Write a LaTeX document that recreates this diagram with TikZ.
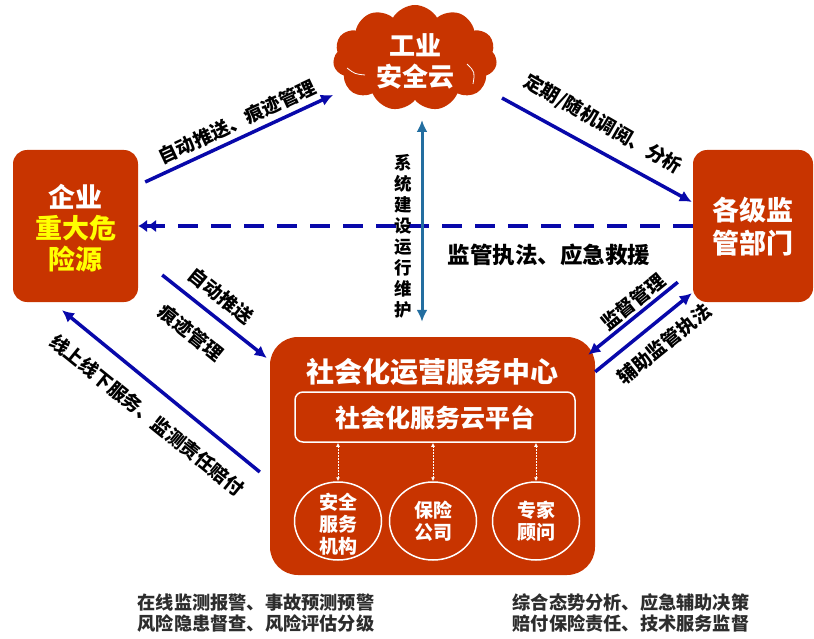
\documentclass[tikz,border=0pt]{standalone}
\usepackage{fontspec}
\setmainfont{Noto Sans CJK SC}
\usetikzlibrary{shapes.symbols,shapes.geometric,arrows.meta,calc}
\definecolor{brick}{RGB}{200,52,0}
\definecolor{navy}{RGB}{8,8,170}
\definecolor{steel}{RGB}{35,110,160}
\definecolor{ylw}{RGB}{255,255,0}
\definecolor{gtxt}{RGB}{45,45,45}
\begin{document}
\begin{tikzpicture}[x=1pt,y=-1pt,
  box/.style={fill=brick, draw=none, rounded corners=14pt, inner sep=0pt},
  lbl/.style={font=\fontsize{19}{21}\selectfont\bfseries, text=black, inner sep=0pt, align=center},
  wtxt/.style={text=white, inner sep=0pt, align=center},
  bluearr/.style={draw=navy, line width=3.5pt, -{Latex[length=12pt,width=12pt]}},
  minarr/.style={draw=white, line width=0.8pt, dash pattern=on 2pt off 1pt, {Latex[length=4pt,width=4pt]}-{Latex[length=4pt,width=4pt]}},
  circ/.style={ellipse, draw=white, line width=1.5pt, minimum width=87pt, minimum height=78pt, inner sep=0pt},
  btxt/.style={font=\fontsize{18.2}{21}\selectfont\bfseries, text=gtxt, inner sep=0pt, align=left}
]
\useasboundingbox (0,0) rectangle (814,639);

% cloud
\node[cloud, fill=brick, cloud puffs=11, cloud puff arc=120, aspect=1.55, minimum width=164pt, minimum height=106pt, inner sep=0pt] (C) at (415,58) {};
\node[wtxt, font=\fontsize{26}{31}\selectfont\bfseries] (Ct) at (415,61) {工业\\安全云};
\draw[white, line width=0.8pt] ([shift={(-68,10)}]C.center) .. controls ([shift={(-60,16)}]C.center) .. ([shift={(-50,17)}]C.center);
\draw[white, line width=0.8pt] ([shift={(52,6)}]C.center) .. controls ([shift={(60,14)}]C.center) .. ([shift={(58,26)}]C.center);

% left box
\node[box, minimum width=125pt, minimum height=152pt] (L) at (75.5,226) {};
\node[wtxt, font=\fontsize{27}{31}\selectfont\bfseries] (Lt) at (75.5,228) {企业\\\textcolor{ylw}{重大危}\\\textcolor{ylw}{险源}};

% right box
\node[box, minimum width=120pt, minimum height=152pt] (R) at (753,226) {};
\node[wtxt, font=\fontsize{27}{33}\selectfont\bfseries] (Rt) at (753,227) {各级监\\管部门};

% center box
\node[box, rounded corners=28pt, minimum width=325pt, minimum height=238pt] (M) at (432.5,456) {};
\node[wtxt, font=\fontsize{28}{30}\selectfont\bfseries] (Mt) at (432.5,372) {社会化运营服务中心};
\node[draw=white, line width=1.5pt, rounded corners=8pt, minimum width=280pt, minimum height=50pt, inner sep=0pt] (P) at (435,417) {};
\node[wtxt, font=\fontsize{25}{27}\selectfont\bfseries] (Pt) at (435,418) {社会化服务云平台};

\node[circ] (E1) at (338,521) {};
\node[circ] (E2) at (433,521) {};
\node[circ] (E3) at (536,521) {};
\node[wtxt, font=\fontsize{19}{22}\selectfont\bfseries] (E1t) at (338,524) {安全\\服务\\机构};
\node[wtxt, font=\fontsize{19}{22}\selectfont\bfseries] (E2t) at (433,521) {保险\\公司};
\node[wtxt, font=\fontsize{19}{22}\selectfont\bfseries] (E3t) at (536,521) {专家\\顾问};
\draw[minarr] (E1.north) -- (E1.north |- P.south);
\draw[minarr] (E2.north) -- (E2.north |- P.south);
\draw[minarr] (E3.north) -- (E3.north |- P.south);

% arrows
\draw[bluearr] ([shift={(7,-44)}]L.east) -- ([shift={(-82,37)}]C.center);
\draw[bluearr] ([shift={(87,40)}]C.center) -- ([shift={(-1,-24)}]R.west);
\draw[draw=navy, line width=4pt, dash pattern=on 20pt off 13pt, -{Latex[length=9pt,width=13pt] Latex[length=9pt,width=13pt]}] (R.west) -- (L.east);
\draw[bluearr] ([shift={(24,49)}]L.east) -- ([shift={(-3,-98)}]M.west);
\draw[bluearr] ([shift={(-10,16)}]M.west) -- ([shift={(-13.5,8)}]L.south);
\draw[bluearr] ([shift={(-15,-20)}]R.south west) -- ([shift={(-7,18)}]M.north east);
\draw[bluearr] ([shift={(0,35)}]M.north east) -- ([shift={(-1,-9)}]R.south west);
\draw[draw=steel, line width=3pt, {Latex[length=12pt,width=11pt]}-{Latex[length=12pt,width=11pt]}] ([shift={(7,62)}]C.center) -- ([shift={(-10.5,-15)}]M.north);

% labels
\node[lbl, rotate=25] (l1) at (237,122) {自动推送、痕迹管理};
\node[lbl, rotate=-30] (l2) at (603,124) {定期/随机调阅、分析};
\node[lbl, font=\fontsize{22.5}{24}\selectfont\bfseries] (l3) at (549,255) {监管执法、应急救援};
\node[lbl, rotate=-39] (l4) at (221,296) {自动推送};
\node[lbl, rotate=-39] (l5) at (191,333) {痕迹管理};
\node[lbl, font=\fontsize{18.7}{21}\selectfont\bfseries, rotate=-39] (l6) at (147,415) {线上线下服务、监测责任赔付};
\node[lbl, rotate=39] (l7) at (633,302) {监督管理};
\node[lbl, rotate=39] (l8) at (664,344) {辅助监管执法};
\node[lbl, font=\fontsize{17.5}{21}\selectfont\bfseries] (l9) at (403,236) {系\\统\\建\\设\\运\\行\\维\\护};

% bottom texts
\node[btxt] (b1) at (256,613) {在线监测报警、事故预测预警\\风险隐患督查、风险评估分级};
\node[btxt] (b2) at (631,613) {综合态势分析、应急辅助决策\\赔付保险责任、技术服务监督};
\end{tikzpicture}
\end{document}
